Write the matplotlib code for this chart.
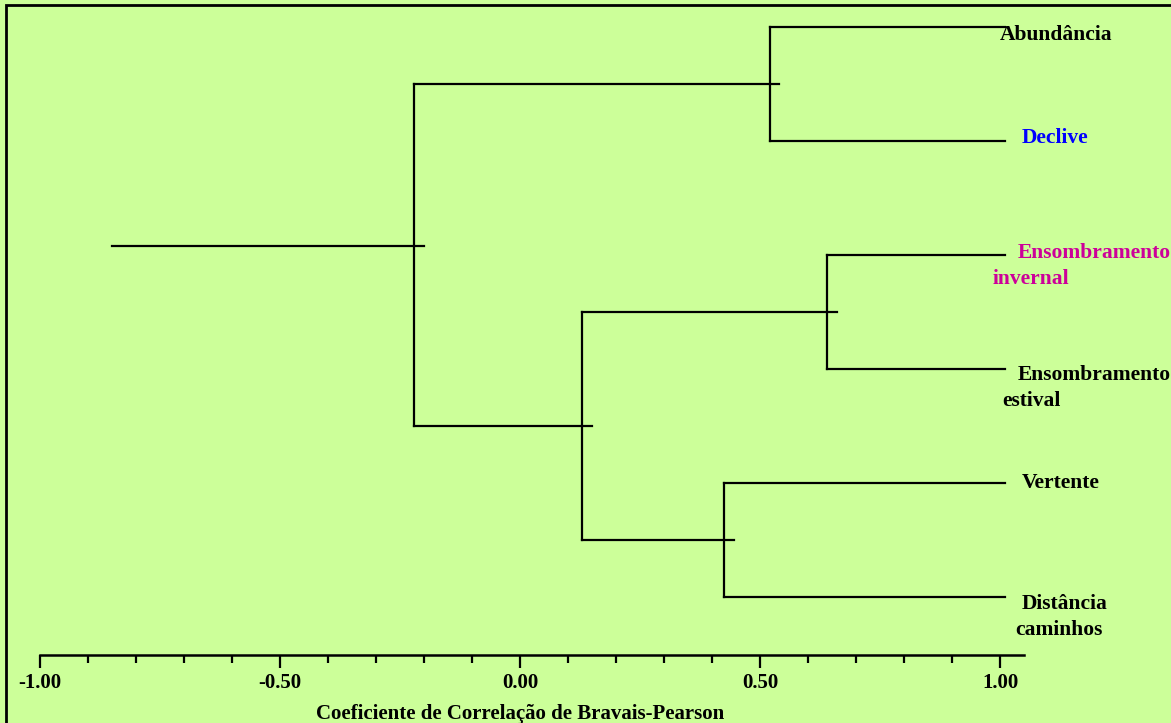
import numpy as np
import matplotlib.pyplot as plt
from matplotlib.patches import Rectangle

# Folhas (de cima para baixo)
folhas = ["Abundância", "Declive", "Ensombramento\ninvernal",
          "Ensombramento\nestival", "Vertente", "Distância\ncaminhos"]
cores = ["black", "#0000FF", "#CC0099", "black", "black", "black"]

# Fusões: (nó a, nó b, nível de correlação); nós 0-5 são folhas
fusoes = [
    (0, 1, 0.52),    # 6
    (2, 3, 0.64),    # 7
    (4, 5, 0.425),   # 8
    (7, 8, 0.13),    # 9
    (6, 9, -0.22),   # 10
]
raiz_inicio = -0.85
folha_fim = 1.01

fundo = "#CCFF99"
fig = plt.figure(figsize=(11.71, 7.23), dpi=100, facecolor=fundo)
plt.rcParams['font.family'] = ['Liberation Serif', 'DejaVu Serif']
plt.rcParams['font.weight'] = 'bold'

W, H = 1171, 723
# eixo: x de -1.00 (px 40) a 1.05 (px 1024), linha em y px 655
ax = fig.add_axes([40 / W, (H - 655) / H, 984 / W, 645 / H])
ax.set_facecolor("none")
ax.set_xlim(-1.0, 1.05)
ax.set_ylim(5.51, -0.15)

lw = 1.6
over = 0.02
pos_x = {i: folha_fim for i in range(6)}
pos_y = {i: float(i) for i in range(6)}

for k, (a, b, nivel) in enumerate(fusoes):
    n = 6 + k
    ya, yb = pos_y[a], pos_y[b]
    ax.plot([nivel, nivel], [ya, yb], color="black", lw=lw, clip_on=False)
    for c in (a, b):
        xe = pos_x[c] if c < 6 else pos_x[c] + over
        ax.plot([nivel, xe], [pos_y[c], pos_y[c]], color="black", lw=lw,
                clip_on=False)
    pos_x[n] = nivel
    pos_y[n] = (ya + yb) / 2

topo = 6 + len(fusoes) - 1
y_raiz = pos_y[topo] - 0.08
ax.plot([raiz_inicio, pos_x[topo] + over], [y_raiz] * 2, color="black",
        lw=lw, clip_on=False)

# rótulos das folhas
fs = 15.5
desloc = [(-5, 8), (17, -3), (13, -2), (13, 6), (17, 0), (17, 7)]
desloc2 = [0, 0, -25, -16, 0, -7]
for i, (txt, cor) in enumerate(zip(folhas, cores)):
    linhas = txt.split("\n")
    dx, dy = desloc[i]
    ax.annotate(linhas[0], xy=(folha_fim, i), xytext=(dx, -dy),
                textcoords="offset pixels", ha="left", va="center",
                fontsize=fs, fontweight="bold", color=cor,
                annotation_clip=False)
    if len(linhas) > 1:
        ax.annotate(linhas[1], xy=(folha_fim, i),
                    xytext=(dx + desloc2[i], -dy - 26),
                    textcoords="offset pixels", ha="left", va="center",
                    fontsize=fs, fontweight="bold", color=cor,
                    annotation_clip=False)

for s in ["top", "right", "left"]:
    ax.spines[s].set_visible(False)
ax.spines["bottom"].set_linewidth(1.8)
ax.set_yticks([])
ax.set_xticks([-1.0, -0.5, 0.0, 0.5, 1.0])
ax.set_xticklabels(["-1.00", "-0.50", "0.00", "0.50", "1.00"],
                   fontsize=15, fontweight="bold")
ax.set_xticks(np.arange(-1.0, 1.01, 0.1), minor=True)
ax.tick_params(axis="x", which="major", length=9, width=1.6, pad=4)
ax.tick_params(axis="x", which="minor", length=6, width=1.6)
ax.set_xlabel("Coeficiente de Correlação de Bravais-Pearson", fontsize=15,
              fontweight="bold")
ax.xaxis.set_label_coords(480 / 984, -(704 - 655) / 645)

# moldura
fig.patches.append(Rectangle((6 / W, -0.01), 1.0, 1.01 - 5 / H,
                             transform=fig.transFigure, fill=False,
                             edgecolor="black", lw=2))

fig.savefig("out.png", dpi=100, facecolor=fundo)
